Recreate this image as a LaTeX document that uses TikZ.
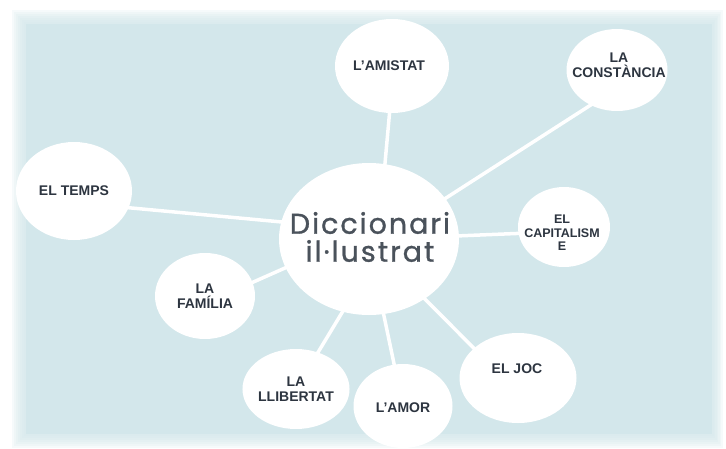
\documentclass[tikz,border=0pt]{standalone}
\usepackage{fontspec}
\setmainfont{Liberation Sans}
\newfontfamily\titlefont[LetterSpace=7,FakeBold=1]{Poppins}
\usetikzlibrary{shapes.geometric}
\pgfdeclarelayer{back}
\pgfdeclarelayer{links}
\pgfsetlayers{back,links,main}
\definecolor{panel}{HTML}{D3E7EB}
\definecolor{ink}{HTML}{2D3540}
\definecolor{titleink}{HTML}{4A525B}
\tikzset{
  bubble/.style={ellipse, fill=white, draw=none, inner sep=0pt, text=ink,
    align=center, font=\bfseries\fontsize{14}{15}\selectfont},
  label/.style={text=ink, align=center, inner sep=0pt,
    font=\bfseries\fontsize{14}{15}\selectfont},
  link/.style={draw=white, line width=3.5pt, shorten <=-3pt, shorten >=-3pt}
}
\begin{document}
\begin{tikzpicture}[x=1pt,y=-1pt]
\useasboundingbox (0,0) rectangle (726,448);
\begin{pgfonlayer}{back}
  \fill[white] (0,0) rectangle (726,448);
  \begin{scope}
    \clip (0,0) rectangle (726,448);
    \foreach \k in {7,6,5,4,3,2,1} {
      \fill[panel, opacity=0.2] (26-2*\k,24-2*\k) rectangle (712+1.5*\k,434+2*\k);
    }
    \fill[panel] (26,24) rectangle (712,434);
  \end{scope}
\end{pgfonlayer}

\node[bubble, minimum width=180pt, minimum height=152pt] (c) at (369,239) {};
\node[text=titleink, align=center, inner sep=0pt,
  font=\titlefont\fontsize{28.5}{28}\selectfont] (ct) at (370,237) {Diccionari\\il·lustrat};

\node[bubble, minimum width=114pt, minimum height=94pt] (amistat) at (392,66) {};
\node[label] (amistatt) at (389,66) {L'AMISTAT};

\node[bubble, minimum width=101pt, minimum height=82pt] (constancia) at (617,70) {};
\node[label] (constanciat) at (619,65) {LA\\CONSTÀNCIA};

\node[bubble, minimum width=116pt, minimum height=98pt] (temps) at (74,191) {EL TEMPS};

\node[bubble, minimum width=92pt, minimum height=80pt] (capital) at (564,227) {};
\node[label, font=\bfseries\fontsize{12.5}{13.5}\selectfont] (capitalt) at (562,233) {EL\\CAPITALISM\\E};

\node[bubble, minimum width=100pt, minimum height=86pt] (familia) at (205,296) {LA\\FAMÍLIA};

\node[bubble, minimum width=92pt, minimum height=80pt] (llibertat) at (296,389) {LA\\LLIBERTAT};

\node[bubble, minimum width=99pt, minimum height=84pt] (amor) at (403,406) {};
\node[label] (amort) at (403,408) {L'AMOR};

\node[bubble, minimum width=117pt, minimum height=90pt] (joc) at (518,378) {};
\node[label] (joct) at (517,369) {EL JOC};

\begin{pgfonlayer}{links}
  \draw[link] (c.78) -- (amistat.267);
  \draw[link] (c.28) -- (constancia.233);
  \draw[link] (c.169) -- (temps.-17);
  \draw[link] (c.2) -- (capital.188);
  \draw[link] (c.199) -- (familia.16);
  \draw[link] (c.250) -- (llibertat.59);
  \draw[link] (c.281) -- (amor.102);
  \draw[link] (c.313) -- (joc.146);
\end{pgfonlayer}
\end{tikzpicture}
\end{document}
